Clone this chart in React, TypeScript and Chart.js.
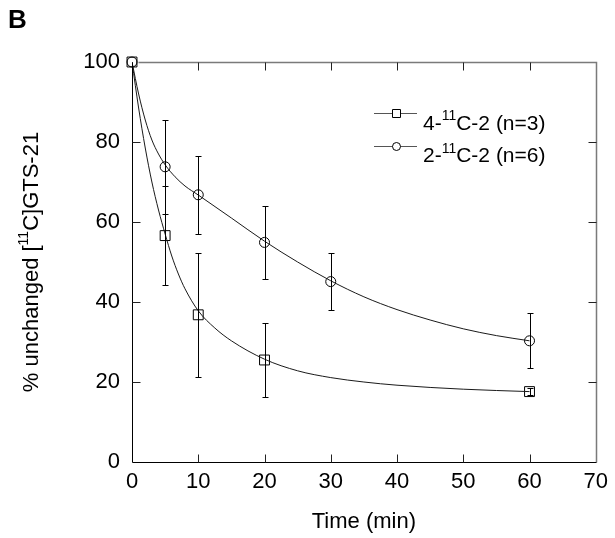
import React, { useEffect, useRef } from "react";
import { Chart, registerables } from "chart.js";

Chart.register(...registerables);

// Measured data
const squareT = [0, 5, 10, 20, 60];
const squareY = [100, 56.6, 36.8, 25.5, 17.6];
const squareErr = [0, 12.3, 15.5, 9.2, 0.8];

const circleT = [0, 5, 10, 20, 30, 60];
const circleY = [100, 73.8, 66.8, 54.9, 45.1, 30.3];
const circleErr = [0, 11.7, 9.7, 9.2, 7.1, 6.9];

// Fitted curves
const squareFitT = [0, 1, 2, 3, 4, 5, 6, 7, 8, 10, 12.5, 15, 20, 25, 30, 35, 40, 50, 60];
const squareFitY = [100, 88.5, 78.5, 70, 63, 57, 51.5, 47, 43.3, 37.8, 33.5, 30.3, 25.7, 22.8, 21.1, 20, 19.2, 18.2, 17.6];

const circleFitT = [0, 1, 2, 3, 4, 5, 6.5, 8, 10, 15, 20, 25, 30, 35, 40, 45, 50, 55, 60];
const circleFitY = [100, 92, 85.5, 80.5, 77, 74.3, 71.3, 69, 66.75, 61, 55.2, 50, 45.3, 41.3, 38.1, 35.5, 33.3, 31.6, 30.3];

const xTicks = [0, 10, 20, 30, 40, 50, 60, 70];
const yTicks = [0, 20, 40, 60, 80, 100];

const legendItems = [
  { pre: "4-", sup: "11", post: "C-2 (n=3)", style: "rect" },
  { pre: "2-", sup: "11", post: "C-2 (n=6)", style: "circle" },
];

const FONT = "'Liberation Sans', Arial, Helvetica, sans-serif";

function pts(xs: number[], ys: number[]) {
  return xs.map((x, i) => ({ x, y: ys[i] }));
}

function drawRich(ctx: CanvasRenderingContext2D, parts: { t: string; sup?: boolean }[], x: number, y: number, size: number, supSize: number, center: boolean) {
  const widths = parts.map((p) => {
    ctx.font = `${p.sup ? supSize : size}px ${FONT}`;
    return ctx.measureText(p.t).width;
  });
  const total = widths.reduce((a, b) => a + b, 0);
  let cx = center ? x - total / 2 : x;
  ctx.textBaseline = "alphabetic";
  ctx.textAlign = "left";
  parts.forEach((p, i) => {
    ctx.font = `${p.sup ? supSize : size}px ${FONT}`;
    ctx.fillText(p.t, cx, p.sup ? y - size * 0.45 : y);
    cx += widths[i];
  });
}

const decorPlugin = {
  id: "decor",
  afterDatasetsDraw(chart: any) {
    const ctx: CanvasRenderingContext2D = chart.ctx;
    const xs = chart.scales.x;
    const ys = chart.scales.y;
    ctx.save();
    ctx.strokeStyle = "#000";
    ctx.lineWidth = 1;
    const bars = (T: number[], Y: number[], E: number[]) => {
      T.forEach((t, i) => {
        if (!E[i]) return;
        const px = Math.round(xs.getPixelForValue(t)) + 0.5;
        const top = Math.round(ys.getPixelForValue(Y[i] + E[i])) + 0.5;
        const bot = Math.round(ys.getPixelForValue(Y[i] - E[i])) + 0.5;
        ctx.beginPath();
        ctx.moveTo(px, top);
        ctx.lineTo(px, bot);
        ctx.moveTo(px - 3, top);
        ctx.lineTo(px + 3, top);
        ctx.moveTo(px - 3, bot);
        ctx.lineTo(px + 3, bot);
        ctx.stroke();
      });
    };
    bars(squareT, squareY, squareErr);
    bars(circleT, circleY, circleErr);
    ctx.restore();
  },
  afterDraw(chart: any) {
    const ctx: CanvasRenderingContext2D = chart.ctx;
    const a = chart.chartArea;
    const xs = chart.scales.x;
    const ys = chart.scales.y;
    ctx.save();
    const L = Math.round(a.left) + 0.5;
    const R = Math.round(a.right) + 0.5;
    const T = Math.round(a.top) + 0.5;
    const B = Math.round(a.bottom) + 0.5;
    // frame top/right
    ctx.strokeStyle = "#7a7a7a";
    ctx.lineWidth = 1.5;
    ctx.beginPath();
    ctx.moveTo(L + 6, T);
    ctx.lineTo(R, T);
    ctx.lineTo(R, B);
    ctx.stroke();
    // left/bottom
    ctx.strokeStyle = "#000";
    ctx.lineWidth = 1;
    ctx.beginPath();
    ctx.moveTo(L, T);
    ctx.lineTo(L, B);
    ctx.lineTo(R, B);
    ctx.stroke();
    // inward ticks
    const tl = 8;
    ctx.strokeStyle = "#222";
    ctx.beginPath();
    xTicks.forEach((v) => {
      if (v === xTicks[0] || v === xTicks[xTicks.length - 1]) return;
      const px = Math.round(xs.getPixelForValue(v)) + 0.5;
      ctx.moveTo(px, B);
      ctx.lineTo(px, B - tl);
      ctx.moveTo(px, T);
      ctx.lineTo(px, T + tl);
    });
    yTicks.forEach((v) => {
      if (v === yTicks[0] || v === yTicks[yTicks.length - 1]) return;
      const py = Math.round(ys.getPixelForValue(v)) + 0.5;
      ctx.moveTo(L, py);
      ctx.lineTo(L + tl, py);
      ctx.moveTo(R, py);
      ctx.lineTo(R - tl, py);
    });
    ctx.stroke();

    ctx.fillStyle = "#000";
    // panel letter
    ctx.font = `bold 26px ${FONT}`;
    ctx.textAlign = "left";
    ctx.textBaseline = "alphabetic";
    ctx.fillText("B", 8, 28);

    // x title
    drawRich(ctx, [{ t: "Time (min)" }], (a.left + a.right) / 2, 528, 22, 14, true);

    // y title (rotated)
    ctx.save();
    ctx.translate(38, (a.top + a.bottom) / 2);
    ctx.rotate(-Math.PI / 2);
    drawRich(ctx, [{ t: "% unchanged [" }, { t: "11", sup: true }, { t: "C]GTS-21" }], 0, 0, 22, 14, true);
    ctx.restore();

    // legend
    const ly = [113.5, 146.5];
    const baseY = [129.5, 162];
    legendItems.forEach((it, i) => {
      ctx.strokeStyle = "#555";
      ctx.lineWidth = 1;
      ctx.beginPath();
      ctx.moveTo(374, ly[i]);
      ctx.lineTo(417, ly[i]);
      ctx.stroke();
      ctx.strokeStyle = "#000";
      ctx.fillStyle = "#fff";
      ctx.beginPath();
      if (it.style === "rect") {
        ctx.rect(392.5, ly[i] - 4, 8, 8);
      } else {
        ctx.arc(396.5, ly[i], 4, 0, Math.PI * 2);
      }
      ctx.fill();
      ctx.stroke();
      ctx.fillStyle = "#000";
      drawRich(ctx, [{ t: it.pre }, { t: it.sup, sup: true }, { t: it.post }], 423, baseY[i], 21, 14, false);
    });
    ctx.restore();
  },
};

export default function App() {
  const ref = useRef<HTMLCanvasElement | null>(null);
  useEffect(() => {
    if (!ref.current) return;
    const chart = new Chart(ref.current, {
      type: "scatter",
      data: {
        datasets: [
          {
            data: pts(squareFitT, squareFitY),
            showLine: true,
            borderColor: "#1a1a1a",
            borderWidth: 1,
            pointRadius: 0,
            cubicInterpolationMode: "monotone",
          } as any,
          {
            data: pts(circleFitT, circleFitY),
            showLine: true,
            borderColor: "#1a1a1a",
            borderWidth: 1,
            pointRadius: 0,
            cubicInterpolationMode: "monotone",
          } as any,
          {
            data: pts(circleT, circleY),
            showLine: false,
            clip: false,
            pointStyle: "circle",
            pointRadius: 5,
            pointBorderColor: "#000",
            pointBackgroundColor: "rgba(0,0,0,0)",
            pointBorderWidth: 1,
          } as any,
          {
            data: pts(squareT, squareY),
            showLine: false,
            clip: false,
            pointStyle: "rect",
            pointRadius: 7,
            pointBorderColor: "#000",
            pointBackgroundColor: "rgba(0,0,0,0)",
            pointBorderWidth: 1,
          } as any,
        ],
      },
      plugins: [decorPlugin],
      options: {
        animation: false,
        responsive: false,
        devicePixelRatio: 1,
        layout: { padding: { left: 0, right: 19, top: 62, bottom: 0 } },
        plugins: { legend: { display: false }, tooltip: { enabled: false } },
        scales: {
          x: {
            type: "linear",
            min: 0,
            max: 70,
            afterFit: (s: any) => {
              s.height = 76;
            },
            afterBuildTicks: (s: any) => {
              s.ticks = xTicks.map((v) => ({ value: v }));
            },
            grid: { display: false, drawTicks: false },
            border: { display: false },
            ticks: {
              color: "#000",
              font: { family: FONT, size: 22 },
              padding: 7,
              maxRotation: 0,
            },
          },
          y: {
            type: "linear",
            min: 0,
            max: 100,
            afterFit: (s: any) => {
              s.width = 132;
            },
            afterBuildTicks: (s: any) => {
              s.ticks = yTicks.map((v) => ({ value: v }));
            },
            grid: { display: false, drawTicks: false },
            border: { display: false },
            ticks: {
              color: "#000",
              font: { family: FONT, size: 22 },
              padding: 12,
            },
          },
        },
      },
    });
    return () => chart.destroy();
  }, []);
  return (
    <div style={{ position: "fixed", left: 0, top: 0, width: 615, height: 538, background: "#fff" }}>
      <canvas ref={ref} width={615} height={538} style={{ display: "block", width: 615, height: 538 }} />
    </div>
  );
}
